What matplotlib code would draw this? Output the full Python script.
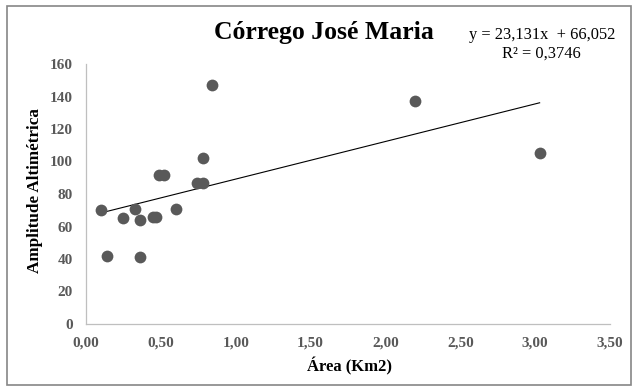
import numpy as np
import matplotlib
matplotlib.use('Agg')
import matplotlib.pyplot as plt
from matplotlib.patches import Rectangle

# Área (Km2) vs Amplitude Altimétrica
area = [0.10, 0.14, 0.25, 0.33, 0.36, 0.36, 0.45, 0.47, 0.49, 0.52,
        0.60, 0.74, 0.78, 0.78, 0.84, 2.20, 3.03]
amplitude = [70, 42, 65, 71, 64, 41, 66, 66, 92, 92,
             71, 87, 87, 102, 147, 137, 105]

# linear trend as reported on the chart
slope = 23.131
intercept = 66.052
r2 = 0.3746

x_ticks = [0, 0.5, 1.0, 1.5, 2.0, 2.5, 3.0, 3.5]
y_ticks = [0, 20, 40, 60, 80, 100, 120, 140, 160]

plt.rcParams['font.family'] = ['Liberation Serif', 'DejaVu Serif']

W, H = 638, 392
fig = plt.figure(figsize=(W / 100, H / 100), dpi=100)
ax = fig.add_axes([86 / W, 1 - 324 / H, (610 - 86) / W, (324 - 64) / H])

# outer chart frame
fig.patches.append(Rectangle((7 / W, 1 - 385 / H), 624 / W, 379 / H,
                             transform=fig.transFigure, fill=False,
                             edgecolor='#868686', linewidth=1.2))

ax.scatter(area, amplitude, s=72, color='#595959', zorder=3, linewidths=0)

xs = np.array([min(area), max(area)])
ax.plot(xs, slope * xs + intercept, color='black', linewidth=0.8, zorder=2)

ax.set_xlim(0, 3.5)
ax.set_ylim(0, 160)
ax.set_xticks(x_ticks)
ax.set_yticks(y_ticks)
ax.set_xticklabels([('%.2f' % v).replace('.', ',') for v in x_ticks])
ax.set_yticklabels([str(v) for v in y_ticks])
ax.tick_params(axis='x', length=0, labelsize=11, colors='#595959', pad=9)
ax.tick_params(axis='y', length=0, labelsize=11, colors='#595959', pad=9.5)
for lbl in ax.get_xticklabels() + ax.get_yticklabels():
    lbl.set_fontweight('bold')

for side in ['top', 'right']:
    ax.spines[side].set_visible(False)
for side in ['left', 'bottom']:
    ax.spines[side].set_color('#BFBFBF')
    ax.spines[side].set_linewidth(0.9)

ax.set_xlabel('Área (Km2)', fontsize=12, fontweight='bold', va='center')
ax.set_ylabel('Amplitude Altimétrica', fontsize=12.3, fontweight='bold', va='center')
ax.xaxis.set_label_coords(0.502, -0.1615)
ax.yaxis.set_label_coords(-0.0973, 0.512)

fig.text(324 / W, 1 - 33 / H, 'Córrego José Maria', ha='center', va='center',
         fontsize=18.5, fontweight='bold')
fig.text(542 / W, 1 - 35 / H, 'y = 23,131x  + 66,052', ha='center', va='center',
         fontsize=11.8)
fig.text(541 / W, 1 - 54 / H, 'R² = 0,3746', ha='center', va='center',
         fontsize=11.8)

fig.savefig('out.png', dpi=100)
